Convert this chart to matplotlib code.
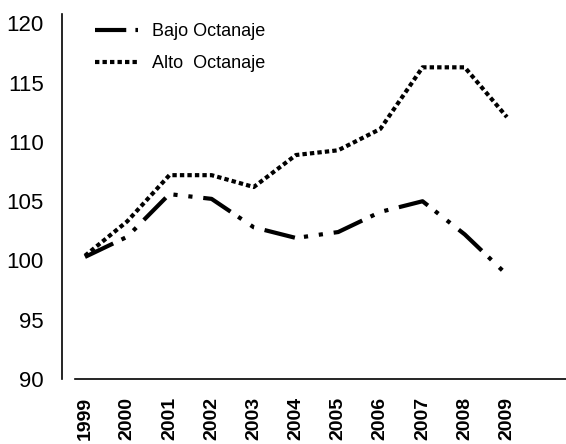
import matplotlib
matplotlib.use("Agg")
from matplotlib import pyplot as plt

years = [1999, 2000, 2001, 2002, 2003, 2004, 2005, 2006, 2007, 2008, 2009]
bajo = [100.3, 102.0, 105.6, 105.2, 102.8, 101.9, 102.4, 104.1, 105.0, 102.2, 98.8]
alto = [100.4, 103.3, 107.2, 107.2, 106.2, 108.9, 109.3, 111.1, 116.3, 116.3, 112.1]
yticks = [90, 95, 100, 105, 110, 115, 120]

plt.rcParams['font.family'] = ['Liberation Sans', 'DejaVu Sans']

fig = plt.figure(figsize=(5.66, 4.44), dpi=100)
ax = fig.add_axes([62 / 566, 1 - 379 / 444, 504 / 566, 365 / 444])

# long dash, dot, dot
ax.plot(years, bajo, color='black', lw=3, dashes=(7.5, 2.2, 1, 2.6, 1, 2.6),
        solid_capstyle='butt', dash_capstyle='butt', label='Bajo Octanaje')
ax.plot(years, alto, color='black', lw=3, dashes=(1.05, 0.75),
        dash_capstyle='butt', label='Alto  Octanaje')

ax.set_xlim(1998.455, 2010.4)
ax.set_ylim(90, 120.8)
ax.set_yticks(yticks)
ax.set_xticks(years)
ax.set_xticklabels([str(y) for y in years], rotation=90, fontweight='bold', fontsize=14)
ax.tick_params(axis='y', length=0, pad=13, labelsize=16)
ax.tick_params(axis='x', length=0, pad=13)

for s in ['top', 'right']:
    ax.spines[s].set_visible(False)
ax.spines['bottom'].set_bounds(1998.76, 2010.4)
ax.spines['left'].set_linewidth(1.2)
ax.spines['bottom'].set_linewidth(1.2)

ax.legend(loc='upper left', bbox_to_anchor=(95 / 566, 1 - 23 / 444),
          bbox_transform=fig.transFigure, frameon=False, fontsize=13,
          handlelength=2.4, handletextpad=0.75, labelspacing=0.85,
          borderpad=0, borderaxespad=0)

fig.savefig('out.png', dpi=100)
